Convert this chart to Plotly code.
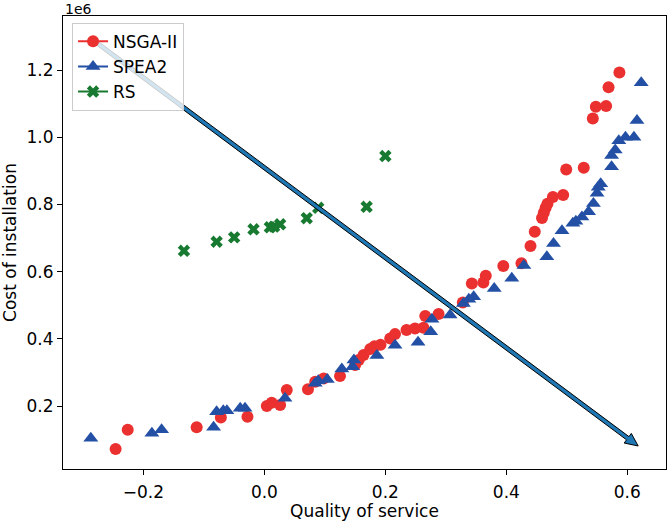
import math
import plotly.graph_objects as go

# ---- data (cost values in units of 1e6) ----
nsga_x = [-0.246, -0.226, -0.112, -0.072, -0.028, 0.004, 0.012, 0.026, 0.037, 0.072,
          0.084, 0.098, 0.125, 0.150, 0.156, 0.164, 0.175, 0.182, 0.192, 0.208,
          0.216, 0.235, 0.249, 0.263, 0.266, 0.288, 0.328, 0.343, 0.362, 0.366,
          0.395, 0.425, 0.440, 0.447, 0.459, 0.462, 0.465, 0.468, 0.477, 0.494,
          0.499, 0.528, 0.543, 0.548, 0.565, 0.569, 0.587]
nsga_y = [0.072, 0.129, 0.137, 0.166, 0.168, 0.200, 0.210, 0.203, 0.248, 0.250,
          0.272, 0.282, 0.289, 0.322, 0.337, 0.352, 0.370, 0.378, 0.382, 0.401,
          0.414, 0.426, 0.431, 0.433, 0.468, 0.474, 0.508, 0.565, 0.568, 0.588,
          0.617, 0.625, 0.676, 0.719, 0.760, 0.775, 0.790, 0.802, 0.822, 0.828,
          0.904, 0.909, 1.056, 1.091, 1.093, 1.149, 1.193]

spea_x = [-0.287, -0.186, -0.170, -0.084, -0.079, -0.068, -0.062, -0.040, -0.032, 0.034,
          0.084, 0.089, 0.104, 0.128, 0.146, 0.148, 0.186, 0.216, 0.254, 0.275,
          0.277, 0.307, 0.329, 0.338, 0.346, 0.380, 0.409, 0.429, 0.467, 0.478,
          0.492, 0.510, 0.515, 0.525, 0.536, 0.544, 0.550, 0.552, 0.556, 0.574,
          0.574, 0.580, 0.586, 0.597, 0.611, 0.616, 0.623]
spea_y = [0.104, 0.119, 0.129, 0.137, 0.183, 0.186, 0.186, 0.193, 0.193, 0.223,
          0.268, 0.275, 0.279, 0.310, 0.317, 0.337, 0.350, 0.381, 0.390, 0.421,
          0.458, 0.471, 0.505, 0.518, 0.525, 0.550, 0.580, 0.618, 0.644, 0.684,
          0.722, 0.744, 0.750, 0.763, 0.778, 0.803, 0.833, 0.851, 0.862, 0.912,
          0.946, 0.962, 0.990, 1.000, 1.000, 1.050, 1.162]

rs_x = [-0.133, -0.079, -0.050, -0.018, 0.009, 0.016, 0.026, 0.070, 0.089, 0.169, 0.200]
rs_y = [0.662, 0.689, 0.702, 0.726, 0.732, 0.734, 0.741, 0.759, 0.790, 0.793, 0.944]

series_names = ["NSGA-II", "SPEA2", "RS"]
x_ticks = [-0.2, 0.0, 0.2, 0.4, 0.6]
y_ticks = [0.2, 0.4, 0.6, 0.8, 1.0, 1.2]

# arrow (data coordinates)
arrow_start = (-0.283, 1.289)
arrow_end = (0.618, 0.081)

# ---- layout geometry ----
W, H = 669, 521
ML, MR, MT, MB = 63, 3, 16, 52
PW, PH = W - ML - MR, H - MT - MB
XR = [-0.333, 0.664]
YR = [0.0125, 1.361]

RED = "#eb3030"
BLUE = "#2350a5"
GREEN = "#187a30"
FONT = "DejaVu Sans"
FS = 17


def to_px(x, y):
    px = (x - XR[0]) / (XR[1] - XR[0]) * PW
    py = (YR[1] - y) / (YR[1] - YR[0]) * PH
    return px, py


def to_data(px, py):
    x = XR[0] + px / PW * (XR[1] - XR[0])
    y = YR[1] - py / PH * (YR[1] - YR[0])
    return x, y


fig = go.Figure()

styles = [
    (nsga_x, nsga_y, RED, dict(symbol="circle", size=12)),
    (spea_x, spea_y, BLUE, dict(symbol="triangle-up", size=13)),
    (rs_x, rs_y, GREEN, dict(symbol="x", size=11)),
]
for (xs, ys, col, mk), name in zip(styles, series_names):
    fig.add_trace(go.Scatter(x=xs, y=ys, mode="markers", name=name, showlegend=False,
                             marker=dict(color=col, line=dict(width=0), **mk)))
for (xs, ys, col, mk), name in zip(styles, series_names):
    fig.add_trace(go.Scatter(x=[None], y=[None], mode="lines+markers", name=name,
                             line=dict(color=col, width=2),
                             marker=dict(color=col, line=dict(width=0), **mk)))

# FancyArrow polygon
sx, sy = to_px(*arrow_start)
ex, ey = to_px(*arrow_end)
L = math.hypot(ex - sx, ey - sy)
dx, dy = (ex - sx) / L, (ey - sy) / L
nx, ny = -dy, dx
w, hw, hl = 2.0, 6.0, 13.0
bx, by = ex - dx * hl, ey - dy * hl
pts_px = [
    (sx + nx * w, sy + ny * w),
    (bx + nx * w, by + ny * w),
    (bx + nx * hw, by + ny * hw),
    (ex, ey),
    (bx - nx * hw, by - ny * hw),
    (bx - nx * w, by - ny * w),
    (sx - nx * w, sy - ny * w),
]
pts = [to_data(px, py) for px, py in pts_px]
path = "M " + " L ".join(f"{x:.6f},{y:.6f}" for x, y in pts) + " Z"
fig.add_shape(type="path", path=path, xref="x", yref="y",
              fillcolor="#1f77b4", line=dict(color="black", width=1), layer="above")

axis_common = dict(showgrid=False, zeroline=False, showline=True, mirror=True,
                   linecolor="black", linewidth=1, ticks="outside", ticklen=5,
                   tickwidth=1, tickcolor="black",
                   tickfont=dict(family=FONT, size=FS, color="black"))

fig.update_xaxes(range=XR, tickvals=x_ticks,
                 ticktext=[f"{v:.1f}".replace("-", "\u2212") for v in x_ticks],
                 title=dict(text="Quality of service", standoff=6,
                            font=dict(family=FONT, size=FS, color="black")),
                 ticklabelstandoff=3,
                 **axis_common)
fig.update_yaxes(range=YR, tickvals=y_ticks,
                 ticktext=[f"{v:.1f}" for v in y_ticks],
                 title=dict(text="Cost of installation", standoff=8,
                            font=dict(family=FONT, size=FS, color="black")),
                 **axis_common)

fig.add_annotation(text="1e6", xref="paper", yref="paper", x=0, y=1,
                   xanchor="left", yanchor="bottom", showarrow=False, yshift=-3,
                   font=dict(family=FONT, size=14, color="black"))

fig.update_layout(
    width=W, height=H,
    margin=dict(l=ML, r=MR, t=MT, b=MB, autoexpand=False),
    paper_bgcolor="white", plot_bgcolor="white",
    font=dict(family=FONT, size=FS, color="black"),
    legend=dict(x=0.015, y=0.985, xanchor="left", yanchor="top",
                bgcolor="rgba(255,255,255,0.8)", bordercolor="#cccccc", borderwidth=1,
                font=dict(family=FONT, size=FS, color="black"),
                itemwidth=30, tracegroupgap=0),
)

fig.write_html("out.html", config={"displayModeBar": False},
               post_script="document.body.style.margin='0';document.body.style.overflow='hidden';")
